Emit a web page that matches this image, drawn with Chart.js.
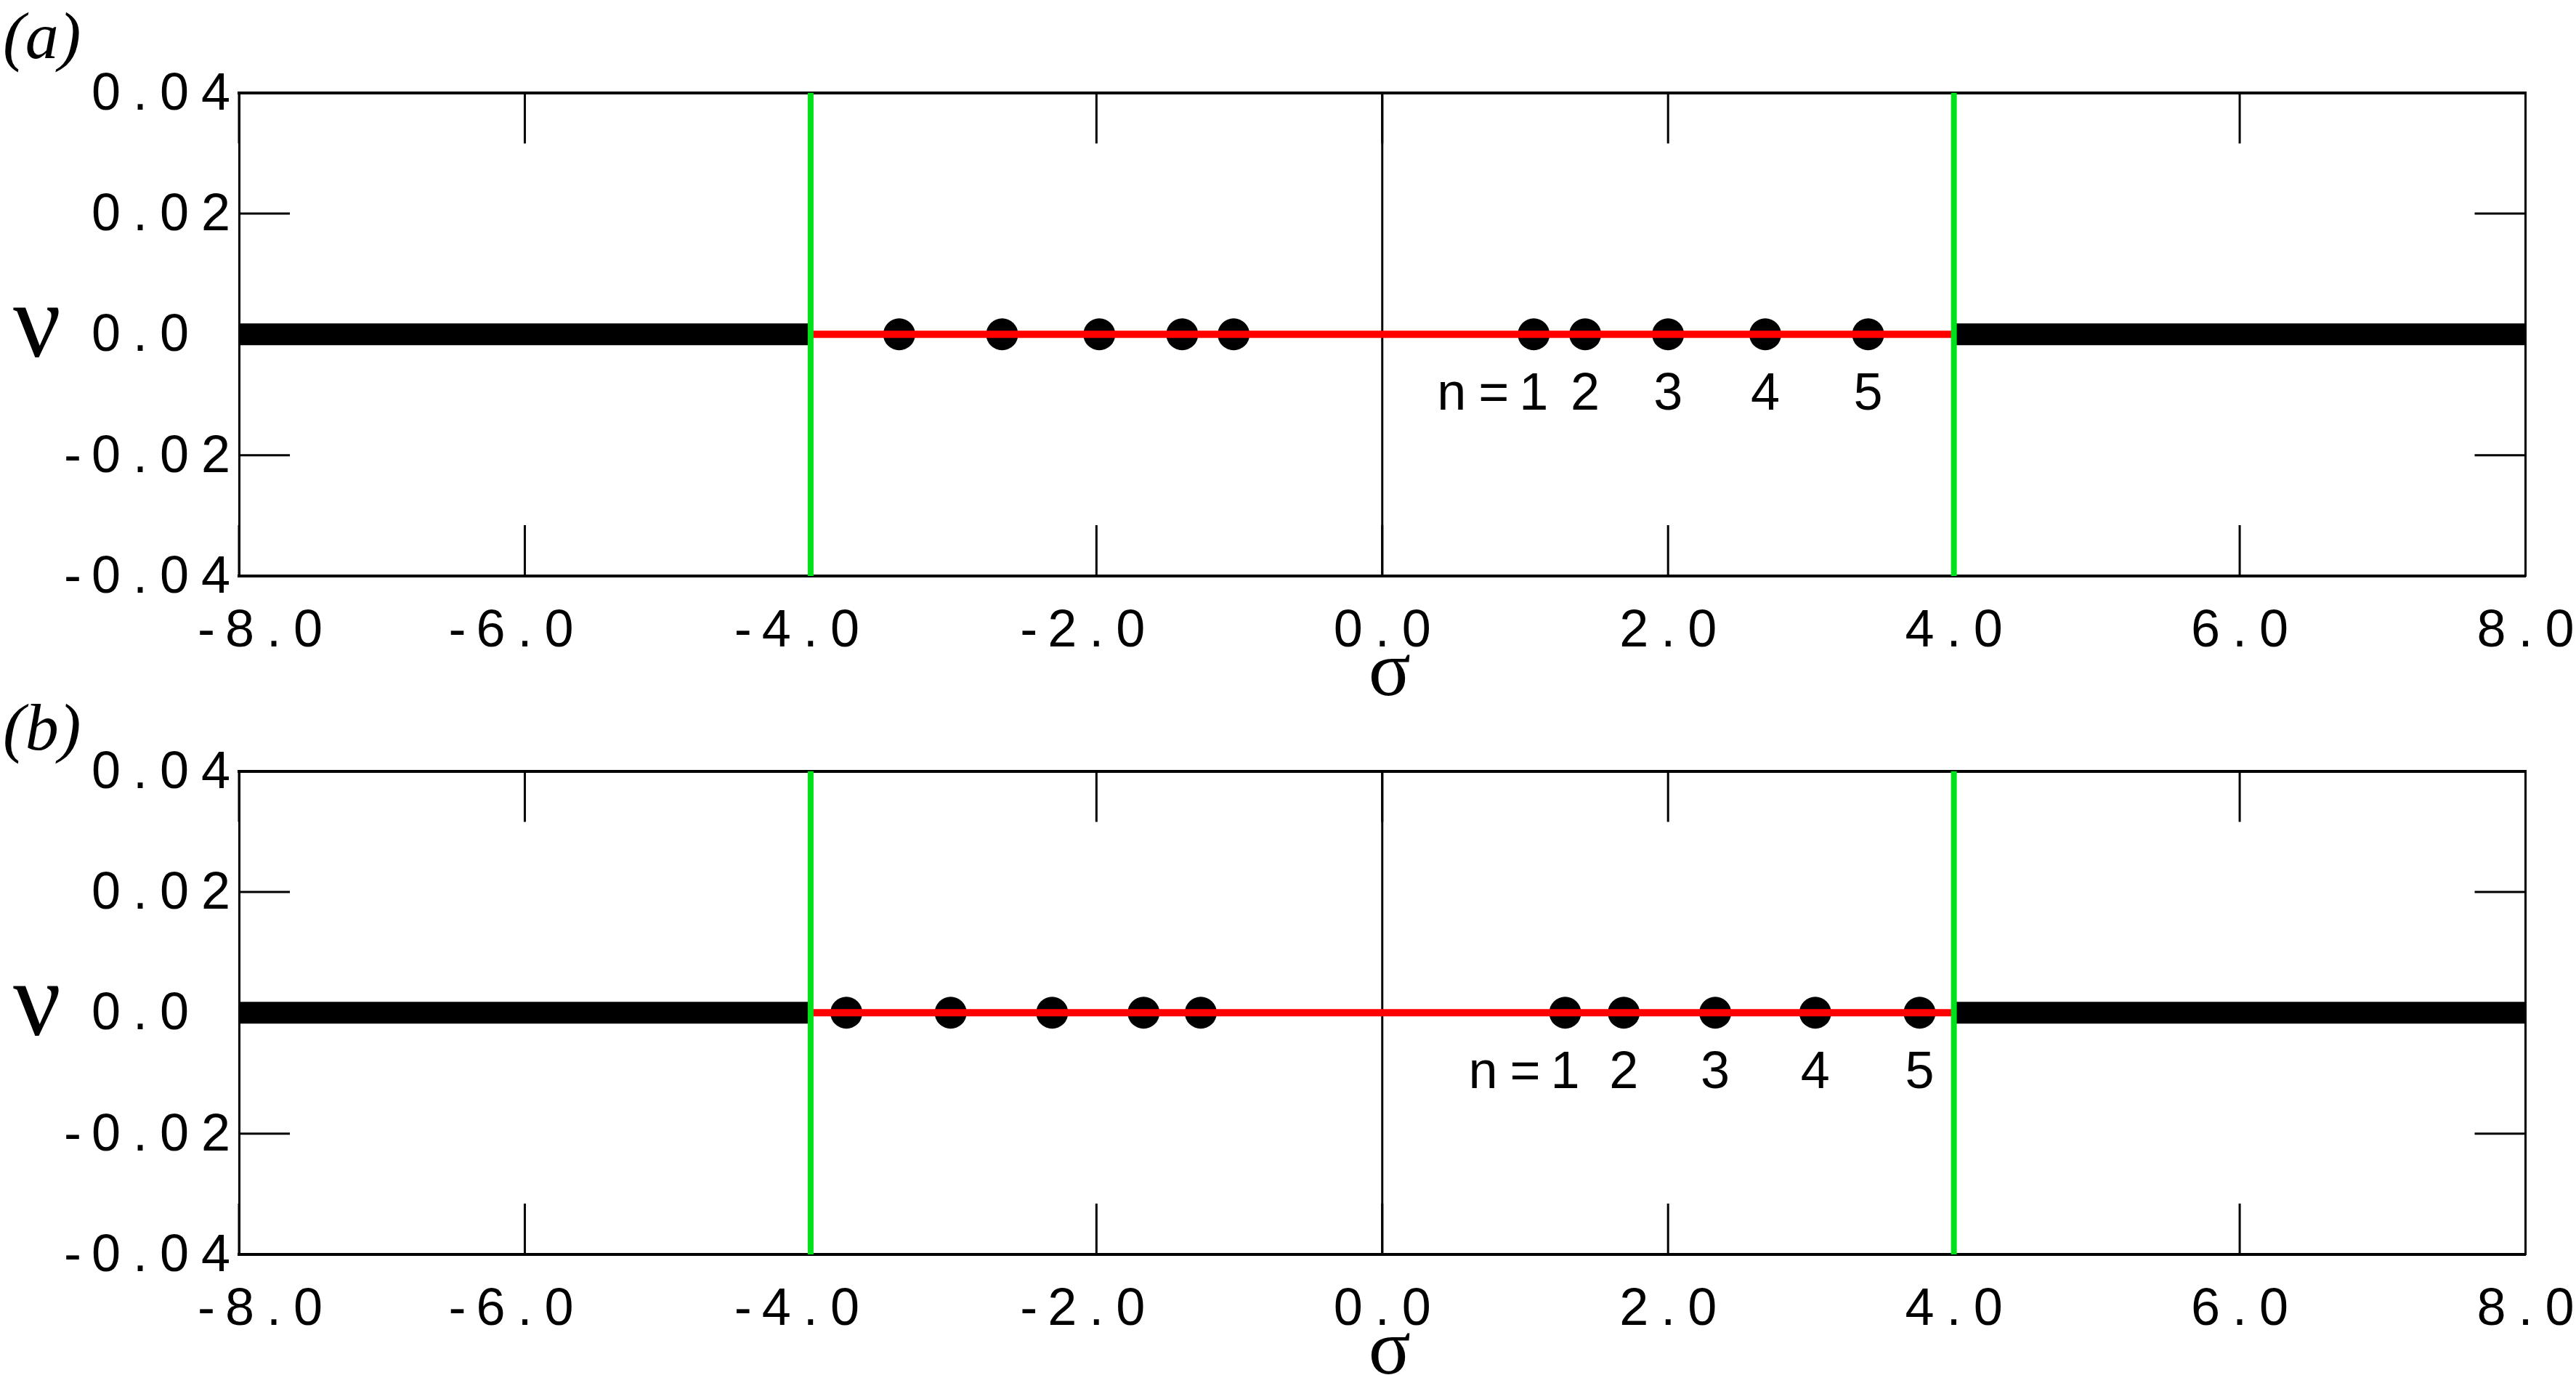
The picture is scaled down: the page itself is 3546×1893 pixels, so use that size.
<!DOCTYPE html>
<html lang="en">
<head>
<meta charset="UTF-8">
<title>Spectrum in the (sigma, nu) plane</title>
<script src="https://cdn.jsdelivr.net/npm/chart.js@4.4.1/dist/chart.umd.min.js"></script>
<style>
  html, body { margin: 0; padding: 0; background: #fff; }
  body { width: 3546px; height: 1893px; position: relative; overflow: hidden; }
  canvas { position: absolute; left: 0; }
  #chartA { top: 0; }
  #chartB { top: 965px; }
</style>
</head>
<body>
<canvas id="chartA" width="3546" height="965"></canvas>
<canvas id="chartB" width="3546" height="928"></canvas>
<script>
// axes
const sigmaMin = -8, sigmaMax = 8;
const nuMin = -0.04, nuMax = 0.04;
const sigmaTicks = [-8, -6, -4, -2, 0, 2, 4, 6, 8];
const sigmaTickLabels = ['-8.0', '-6.0', '-4.0', '-2.0', '0.0', '2.0', '4.0', '6.0', '8.0'];
const nuTicks = [0.04, 0.02, 0, -0.02, -0.04];
const nuTickLabels = ['0.04', '0.02', '0.0', '-0.02', '-0.04'];

// continuous spectrum: black outside the edges, red between them
const edges = [-4, 4];
const outerLeft = [-8, -4];
const outerRight = [4, 8];
const inner = [-4, 4];

// discrete eigenvalues (dots)
const sigmaA = [-3.38, -2.66, -1.98, -1.40, -1.04, 1.06, 1.42, 2.00, 2.68, 3.40];
const nuA = [0, 0, 0, 0, 0, 0, 0, 0, 0, 0];
const sigmaB = [-3.75, -3.02, -2.31, -1.67, -1.27, 1.28, 1.69, 2.33, 3.03, 3.76];
const nuB = [0, 0, 0, 0, 0, 0, 0, 0, 0, 0];
const modeLabels = ['1', '2', '3', '4', '5'];

const FONT = '"Liberation Sans", Arial, sans-serif';
const LS = 17;     // letter spacing of the tick text
const TICK = 70;   // inner tick length

function drawSpaced(ctx, s, x, y) {
  ctx.textAlign = 'left';
  for (const ch of s) {
    ctx.fillText(ch, x, y);
    x += ctx.measureText(ch).width + LS;
  }
}
function spacedWidth(ctx, s) {
  let w = 0;
  for (const ch of s) w += ctx.measureText(ch).width;
  return w + LS * (s.length - 1);
}
// minus sign hangs to the left of the number
function drawNumber(ctx, label, left, y) {
  const neg = label.startsWith('-');
  const body = neg ? label.slice(1) : label;
  drawSpaced(ctx, body, left, y);
  if (neg) {
    ctx.textAlign = 'right';
    ctx.fillText('-', left - 14, y);
  }
}

const framePlugin = {
  id: 'frame',
  beforeDatasetsDraw(chart) {
    const { ctx, chartArea: a, scales: { x, y } } = chart;
    ctx.save();
    ctx.strokeStyle = '#000';
    ctx.lineWidth = 3;
    ctx.beginPath();
    sigmaTicks.forEach(v => {
      const px = x.getPixelForValue(v);
      ctx.moveTo(px, a.top); ctx.lineTo(px, a.top + TICK);
      ctx.moveTo(px, a.bottom); ctx.lineTo(px, a.bottom - TICK);
    });
    nuTicks.forEach(v => {
      const py = y.getPixelForValue(v);
      ctx.moveTo(a.left, py); ctx.lineTo(a.left + TICK, py);
      ctx.moveTo(a.right, py); ctx.lineTo(a.right - TICK, py);
    });
    ctx.stroke();
    ctx.restore();
  },
  afterDraw(chart, args, opts) {
    const { ctx, chartArea: a, scales: { x, y } } = chart;
    ctx.save();
    ctx.fillStyle = '#000';
    ctx.textBaseline = 'alphabetic';
    ctx.font = '72px ' + FONT;

    // y tick labels
    nuTicks.forEach((v, i) => {
      drawNumber(ctx, nuTickLabels[i], a.left - 203, y.getPixelForValue(v) + 23);
    });
    // x tick labels, centred on the number part
    sigmaTicks.forEach((v, i) => {
      const lab = sigmaTickLabels[i];
      const body = lab.replace('-', '');
      const w = spacedWidth(ctx, body);
      const left = Math.max(x.getPixelForValue(v) - w / 2, a.left - 19);
      drawNumber(ctx, lab, left, a.bottom + 97);
    });

    // mode numbers under the positive-sigma dots
    const pos = opts.sigma.filter(s => s > 0);
    const zy = y.getPixelForValue(0) + 104;
    pos.forEach((s, i) => {
      ctx.textAlign = 'center';
      ctx.fillText(modeLabels[i], x.getPixelForValue(s), zy);
    });
    const nEnd = x.getPixelForValue(pos[0]) - 34;
    drawSpaced(ctx, 'n=', nEnd - spacedWidth(ctx, 'n='), zy);

    // axis titles
    ctx.textAlign = 'center';
    ctx.font = '108px "Liberation Serif", "DejaVu Serif", serif';
    ctx.fillText('σ', (a.left + a.right) / 2 + 10, a.bottom + 164);
    ctx.font = '146px "Liberation Serif", "DejaVu Serif", serif';
    ctx.fillText('ν', 51, y.getPixelForValue(0) + 31);

    // panel label
    ctx.textAlign = 'left';
    ctx.font = 'italic 92px "Liberation Serif", "DejaVu Serif", serif';
    ctx.fillText(opts.panel, 4, opts.panelBaseline);
    ctx.restore();
  }
};

function seg(xs, ys) {
  return xs.map((v, i) => ({ x: v, y: ys[i] }));
}

function makePanel(id, sigma, nu, panel, panelBaseline, padTop, padBottom) {
  const lineDs = (data, color, width, order) => ({
    data, showLine: true, borderColor: color, borderWidth: width,
    pointRadius: 0, order
  });
  const green = 'rgb(0,225,25)';
  const datasets = [
    lineDs(seg([edges[0], edges[0]], [nuMin, nuMax]), green, 8, 0),
    lineDs(seg([edges[1], edges[1]], [nuMin, nuMax]), green, 8, 0),
    lineDs(seg(inner, [0, 0]), '#ff0000', 10, 1),
    lineDs(seg([0, 0], [nuMin, nuMax]), '#000', 3, 2),
    {
      data: seg(sigma, nu), showLine: false, pointRadius: 22,
      pointBackgroundColor: '#000', pointBorderWidth: 0, order: 3
    },
    lineDs(seg(outerLeft, [0, 0]), '#000', 30, 4),
    lineDs(seg(outerRight, [0, 0]), '#000', 30, 4)
  ];
  const axis = (min, max, pos, bw) => ({
    type: 'linear', position: pos, min, max,
    ticks: { display: false },
    grid: { display: false, drawTicks: false },
    border: { display: true, color: '#000', width: bw }
  });
  return new Chart(document.getElementById(id), {
    type: 'scatter',
    data: { datasets },
    options: {
      responsive: false,
      devicePixelRatio: 1,
      animation: false,
      events: [],
      layout: { padding: { left: 329, right: 69.5, top: padTop, bottom: padBottom } },
      scales: {
        x: axis(sigmaMin, sigmaMax, 'bottom', 4),
        x2: axis(sigmaMin, sigmaMax, 'top', 4),
        y: axis(nuMin, nuMax, 'left', 3),
        y2: axis(nuMin, nuMax, 'right', 3)
      },
      plugins: {
        legend: { display: false },
        tooltip: { enabled: false },
        frame: { sigma, panel, panelBaseline }
      }
    },
    plugins: [framePlugin]
  });
}

makePanel('chartA', sigmaA, nuA, '(a)', 80, 127.5, 172);
makePanel('chartB', sigmaB, nuB, '(b)', 67, 96.5, 166);
</script>
</body>
</html>
